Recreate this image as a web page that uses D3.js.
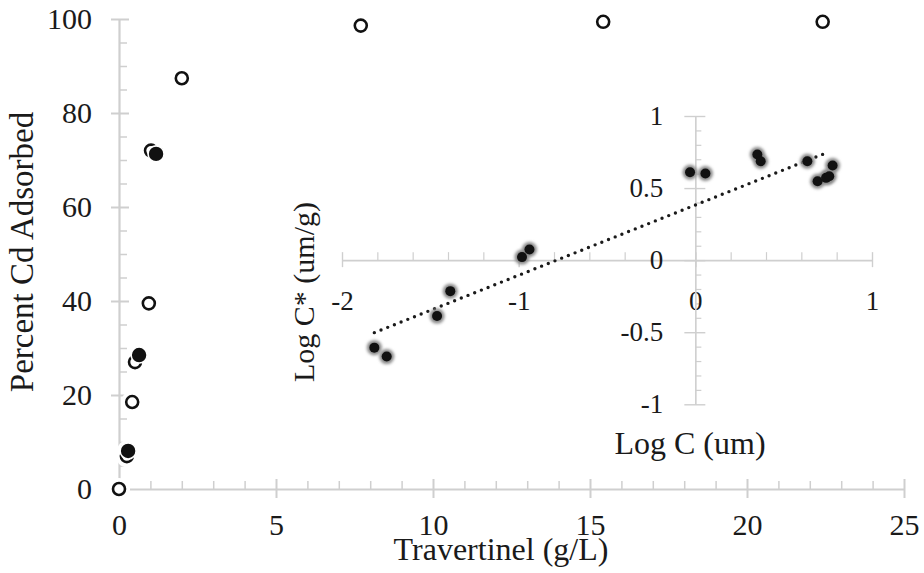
<!DOCTYPE html>
<html>
<head>
<meta charset="utf-8">
<script src="https://cdn.jsdelivr.net/npm/d3@7"></script>
<style>
body { margin: 0; background: #fff; }
svg { display: block; font-family: "Liberation Serif", "Times New Roman", serif; }
.axis path, .axis line { stroke: #cfcfcf; }
.axis text { fill: #1a1a1a; font-family: "Liberation Serif", "Times New Roman", serif; }
</style>
</head>
<body>
<svg width="924" height="573"></svg>
<script>
// main chart: travertine dose vs percent Cd adsorbed
var openX = [0, 0.25, 0.42, 0.51, 0.95, 1.02, 2.0, 7.7, 15.42, 22.41];
var openY = [0, 7.0, 18.5, 27.0, 39.5, 72.0, 87.4, 98.6, 99.4, 99.4];
var filledX = [0.29, 0.64, 1.18];
var filledY = [8.1, 28.5, 71.3];
var mainXTicks = [0, 5, 10, 15, 20, 25];
var mainYTicks = [0, 20, 40, 60, 80, 100];

// inset: log isotherm
var logC = [-1.817, -1.747, -1.462, -1.387, -0.981, -0.939, -0.030, 0.057, 0.351, 0.370, 0.634, 0.692, 0.740, 0.758, 0.777];
var logCs = [-0.607, -0.669, -0.388, -0.215, 0.021, 0.074, 0.610, 0.601, 0.733, 0.686, 0.686, 0.547, 0.571, 0.582, 0.656];
var trendX = [-1.817, 0.75];
var trendY = [-0.503, 0.748];
var insetXTicks = [-2, -1, 0, 1];
var insetYTicks = [-1, -0.5, 0, 0.5, 1];

var svg = d3.select("svg");

var defs = svg.append("defs");
defs.append("filter").attr("id", "blur")
  .attr("x", "-50%").attr("y", "-50%").attr("width", "200%").attr("height", "200%")
  .append("feGaussianBlur").attr("stdDeviation", 1.6);

var x = d3.scaleLinear().domain([0, 25]).range([119, 904]);
var y = d3.scaleLinear().domain([0, 100]).range([489, 19]);

// minor ticks
svg.append("g").attr("class", "axis")
  .attr("transform", "translate(0," + y(0) + ")")
  .call(d3.axisTop(x).tickValues(d3.range(1, 25).filter(function(d) { return d % 5 != 0; }))
    .tickSize(8).tickSizeOuter(0).tickFormat(""))
  .call(function(g) { g.select(".domain").remove(); })
  .selectAll("line").attr("stroke-width", 1.5);

svg.append("g").attr("class", "axis")
  .attr("transform", "translate(" + x(0) + ",0)")
  .call(d3.axisRight(y).tickValues(d3.range(5, 100, 5).filter(function(d) { return d % 20 != 0; }))
    .tickSize(8).tickSizeOuter(0).tickFormat(""))
  .call(function(g) { g.select(".domain").remove(); })
  .selectAll("line").attr("stroke-width", 1.5);

var xAxis = svg.append("g").attr("class", "axis")
  .attr("transform", "translate(0," + y(0) + ")")
  .call(d3.axisBottom(x).tickValues(mainXTicks).tickSize(9).tickSizeOuter(0).tickPadding(16)
    .tickFormat(function(d) { return String(d); }));
xAxis.select(".domain").attr("stroke-width", 2.2);
xAxis.selectAll(".tick line").attr("y1", -10).attr("stroke-width", 2);
xAxis.selectAll("text").attr("font-size", 30);

var yAxis = svg.append("g").attr("class", "axis")
  .attr("transform", "translate(" + x(0) + ",0)")
  .call(d3.axisLeft(y).tickValues(mainYTicks).tickSize(8).tickSizeOuter(0).tickPadding(19)
    .tickFormat(function(d) { return String(d); }));
yAxis.select(".domain").attr("stroke-width", 2.2);
yAxis.selectAll(".tick line").attr("x1", 10).attr("stroke-width", 2);
yAxis.selectAll("text").attr("font-size", 30);

svg.append("text")
  .attr("x", 501).attr("y", 560)
  .attr("text-anchor", "middle")
  .attr("font-size", 32).attr("fill", "#1a1a1a")
  .text("Travertinel (g/L)");

svg.append("text")
  .attr("transform", "translate(33,252) rotate(-90)")
  .attr("text-anchor", "middle")
  .attr("font-size", 33).attr("fill", "#1a1a1a")
  .text("Percent Cd Adsorbed");

// inset
var xi = d3.scaleLinear().domain([-2, 1]).range([342, 872]);
var yi = d3.scaleLinear().domain([-1, 1]).range([404.3, 116]);

svg.append("g").attr("class", "axis")
  .attr("transform", "translate(0," + yi(0) + ")")
  .call(d3.axisTop(xi).tickValues(d3.range(-19, 10).map(function(d) { return d / 10; })
      .filter(function(d, i) { return Math.round(d * 10) % 2 == 0 && Math.round(d * 10) % 10 != 0; }))
    .tickSize(8).tickSizeOuter(0).tickFormat(""))
  .call(function(g) { g.select(".domain").remove(); })
  .selectAll("line").attr("stroke-width", 1.2);

svg.append("g").attr("class", "axis")
  .attr("transform", "translate(" + xi(0) + ",0)")
  .call(d3.axisRight(yi).tickValues(d3.range(-9, 10).map(function(d) { return d / 10; })
      .filter(function(d) { return Math.round(d * 10) % 5 != 0; }))
    .tickSize(6).tickSizeOuter(0).tickFormat(""))
  .call(function(g) { g.select(".domain").remove(); })
  .selectAll("line").attr("stroke-width", 1.2);

var xiAxis = svg.append("g").attr("class", "axis")
  .attr("transform", "translate(0," + yi(0) + ")")
  .call(d3.axisBottom(xi).tickValues(insetXTicks).tickSize(7).tickSizeOuter(0).tickPadding(24)
    .tickFormat(function(d) { return String(d); }));
xiAxis.select(".domain").attr("stroke-width", 1.6);
xiAxis.selectAll(".tick line").attr("y1", -8).attr("stroke-width", 1.4);
xiAxis.selectAll("text").attr("font-size", 27);

var yiAxis = svg.append("g").attr("class", "axis")
  .attr("transform", "translate(" + xi(0) + ",0)")
  .call(d3.axisLeft(yi).tickValues(insetYTicks).tickSize(11).tickSizeOuter(0).tickPadding(21)
    .tickFormat(function(d) { return String(d); }));
yiAxis.select(".domain").attr("stroke-width", 1.6);
yiAxis.selectAll(".tick line").attr("x1", 10).attr("stroke-width", 1.4);
yiAxis.selectAll("text").attr("font-size", 27);

svg.append("text")
  .attr("x", 690).attr("y", 454)
  .attr("text-anchor", "middle")
  .attr("font-size", 32).attr("fill", "#1a1a1a")
  .text("Log C (um)");

svg.append("text")
  .attr("transform", "translate(314,292) rotate(-90)")
  .attr("text-anchor", "middle")
  .attr("font-size", 30).attr("fill", "#1a1a1a")
  .text("Log C* (um/g)");

var trend = trendX.map(function(d, i) { return [d, trendY[i]]; });
svg.append("path")
  .attr("d", d3.line().x(function(d) { return xi(d[0]); }).y(function(d) { return yi(d[1]); })(trend))
  .attr("fill", "none").attr("stroke", "#1a1a1a")
  .attr("stroke-width", 3.4).attr("stroke-linecap", "round")
  .attr("stroke-dasharray", "0 7.2");

var inset = logC.map(function(d, i) { return { x: d, y: logCs[i] }; });
svg.append("g").selectAll("circle").data(inset).enter().append("circle")
  .attr("cx", function(d) { return xi(d.x); })
  .attr("cy", function(d) { return yi(d.y); })
  .attr("r", 7.5).attr("fill", "#8a8a8a").attr("filter", "url(#blur)");
svg.append("g").selectAll("circle").data(inset).enter().append("circle")
  .attr("cx", function(d) { return xi(d.x); })
  .attr("cy", function(d) { return yi(d.y); })
  .attr("r", 5).attr("fill", "#111");

// main markers
var openPts = openX.map(function(d, i) { return { x: d, y: openY[i] }; });
var filledPts = filledX.map(function(d, i) { return { x: d, y: filledY[i] }; });

svg.append("g").selectAll("circle").data(openPts.concat(filledPts)).enter().append("circle")
  .attr("cx", function(d) { return x(d.x); })
  .attr("cy", function(d) { return y(d.y); })
  .attr("r", 11).attr("fill", "#fff");

svg.append("g").selectAll("circle").data(openPts).enter().append("circle")
  .attr("cx", function(d) { return x(d.x); })
  .attr("cy", function(d) { return y(d.y); })
  .attr("r", 6).attr("fill", "#fff")
  .attr("stroke", "#111").attr("stroke-width", 2.6);

svg.append("g").selectAll("circle").data(filledPts).enter().append("circle")
  .attr("cx", function(d) { return x(d.x); })
  .attr("cy", function(d) { return y(d.y); })
  .attr("r", 8).attr("fill", "#111")
  .attr("stroke", "#fff").attr("stroke-width", 1.6);
</script>
</body>
</html>
